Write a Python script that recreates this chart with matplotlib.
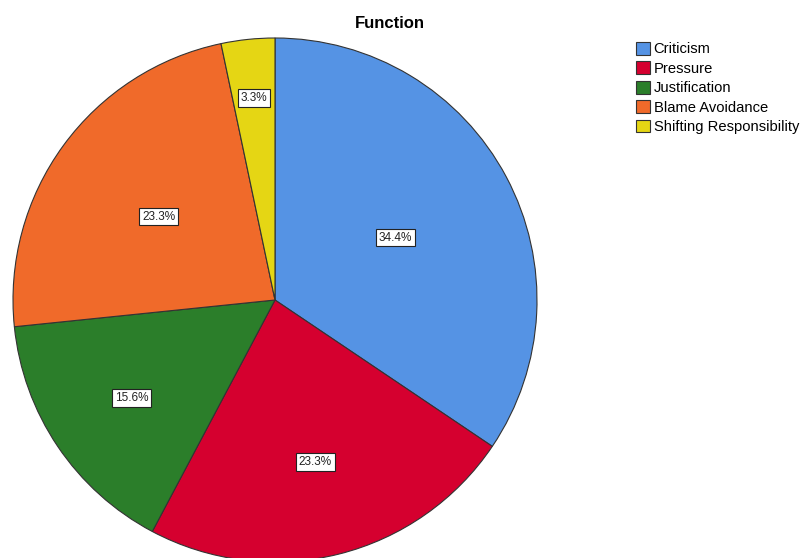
import matplotlib
matplotlib.use('Agg')
import matplotlib.pyplot as plt
import numpy as np

plt.rcParams['font.family'] = ['Liberation Sans', 'DejaVu Sans']

# dados
categorias = ['Criticism', 'Pressure', 'Justification', 'Blame Avoidance', 'Shifting Responsibility']
percentuais = [34.4, 23.3, 15.6, 23.3, 3.3]
rotulos = ['34.4%', '23.3%', '15.6%', '23.3%', '3.3%']
cores = ['#5593E4', '#D5002F', '#2B7E2A', '#F06A2A', '#E5D614']

# distancia radial de cada rotulo (fracao do raio)
dist_rotulo = [0.52, 0.63, 0.66, 0.55, 0.78]

fig = plt.figure(figsize=(8.01, 5.58), dpi=100)
ax = fig.add_axes([0, 0, 1, 1])

centro = (275, 258)
raio = 262

wedges, _ = ax.pie(percentuais, colors=cores, startangle=90, counterclock=False,
                   center=centro, radius=raio, frame=True,
                   wedgeprops=dict(edgecolor='#333333', linewidth=0.8))
ax.set_xlim(0, 801)
ax.set_ylim(0, 558)
ax.set_aspect('equal')
ax.axis('off')

for w, txt, d in zip(wedges, rotulos, dist_rotulo):
    ang = np.deg2rad((w.theta1 + w.theta2) / 2)
    x = centro[0] + d * raio * np.cos(ang)
    y = centro[1] + d * raio * np.sin(ang)
    ax.text(x, y, txt, ha='center', va='center_baseline', fontsize=8.5, color='#222222',
            bbox=dict(boxstyle='square,pad=0.25', facecolor='white', edgecolor='#222222', linewidth=0.8))

fig.text(390 / 801, 1 - 23 / 558, 'Function', ha='center', va='center',
         fontsize=12, fontweight='bold')

leg = fig.legend(wedges, categorias, loc='upper left', bbox_to_anchor=(636 / 801, 1 - 42 / 558),
                 frameon=False, fontsize=10.6, handlelength=0.95, handleheight=0.95,
                 handletextpad=0.25, labelspacing=0.34, borderpad=0, borderaxespad=0)

fig.savefig('out.png', dpi=100)
